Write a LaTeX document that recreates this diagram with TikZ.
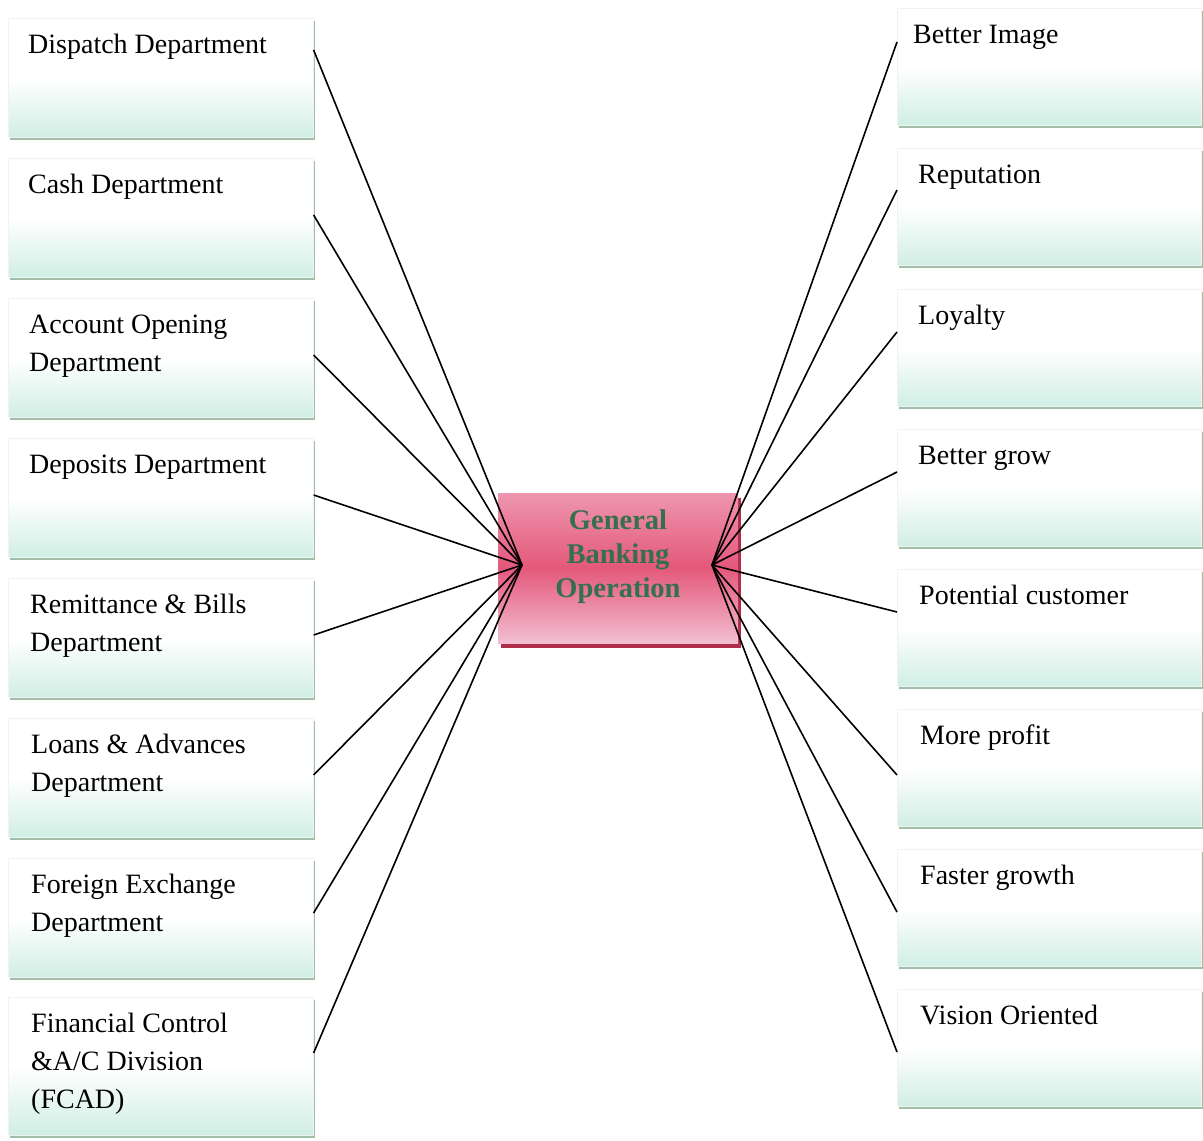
\documentclass[tikz,border=0pt]{standalone}
\usepackage{fontspec}
\setmainfont{Liberation Serif}
\usetikzlibrary{shadows,calc}
\definecolor{boxgreen}{RGB}{208,238,228}
\definecolor{boxshadow}{RGB}{150,185,160}
\definecolor{pinktop}{RGB}{238,150,175}
\definecolor{pinkmid}{RGB}{228,88,122}
\definecolor{pinkbot}{RGB}{242,190,210}
\definecolor{pinkshadow}{RGB}{175,45,72}
\definecolor{gbgreen}{RGB}{52,112,78}
\tikzset{
  sbox/.style={rectangle, draw=gray!10, line width=0.6pt, inner sep=0pt,
    top color=white, bottom color=boxgreen, middle color=white,
    drop shadow={shadow xshift=1.5pt, shadow yshift=-3pt, fill=boxshadow, opacity=0.9}},
  btext/.style={anchor=north west, inner sep=0pt, align=left,
    font=\fontsize{28}{38}\selectfont},
  hub/.style={rectangle, draw=none, minimum width=240pt, minimum height=150pt,
    top color=pinktop, bottom color=pinkbot, middle color=pinkmid,
    drop shadow={shadow xshift=2.5pt, shadow yshift=-5pt, fill=pinkshadow, opacity=1}},
  hubtext/.style={font=\bfseries\fontsize{28.5}{34}\selectfont, text=gbgreen, align=center, inner sep=0pt},
  link/.style={draw=black, line width=1.6pt}
}
\newcommand{\fs}{\rule{0pt}{21pt}}
\begin{document}
\begin{tikzpicture}[x=1pt,y=-1pt]
\useasboundingbox[fill=white] (0,0) rectangle (1203,1141);

% left boxes
\foreach \n/\t/\h in {1/18/119,2/158/119,3/298/119,4/438/119,5/578/119,6/718/119,7/858/119,8/997/138}{
  \node[sbox, minimum width=305pt, minimum height=\h pt, anchor=north west] (L\n) at (8,\t) {};
}
% right boxes
\foreach \n/\t in {1/8,2/148,3/289,4/429,5/569,6/709,7/849,8/989}{
  \node[sbox, minimum width=304pt, minimum height=117pt, anchor=north west] (R\n) at (897,\t) {};
}

% left texts (first baseline = box top + 35)
\node[btext] (tL1) at ($(L1.north west)+(20,14)$) {\fs Dispatch Department};
\node[btext] (tL2) at ($(L2.north west)+(20,14)$) {\fs Cash Department};
\node[btext] (tL3) at ($(L3.north west)+(21,14)$) {\fs Account Opening\\Department};
\node[btext] (tL4) at ($(L4.north west)+(21,14)$) {\fs Deposits Department};
\node[btext] (tL5) at ($(L5.north west)+(22,14)$) {\fs Remittance \& Bills\\Department};
\node[btext] (tL6) at ($(L6.north west)+(23,14)$) {\fs Loans \& Advances\\Department};
\node[btext] (tL7) at ($(L7.north west)+(23,14)$) {\fs Foreign Exchange\\Department};
\node[btext] (tL8) at ($(L8.north west)+(23,14)$) {\fs Financial Control\\\&A/C Division\\(FCAD)};

% right texts
\node[btext] (tR1) at ($(R1.north west)+(16,14)$) {\fs Better Image};
\node[btext] (tR2) at ($(R2.north west)+(21,14)$) {\fs Reputation};
\node[btext] (tR3) at ($(R3.north west)+(21,14)$) {\fs Loyalty};
\node[btext] (tR4) at ($(R4.north west)+(21,14)$) {\fs Better grow};
\node[btext] (tR5) at ($(R5.north west)+(22,14)$) {\fs Potential customer};
\node[btext] (tR6) at ($(R6.north west)+(23,14)$) {\fs More profit};
\node[btext] (tR7) at ($(R7.north west)+(23,14)$) {\fs Faster growth};
\node[btext] (tR8) at ($(R8.north west)+(23,14)$) {\fs Vision Oriented};

% hub
\node[hub] (G) at (618,568) {};
\node[hubtext] (Gt) at (618,557) {General\\Banking\\Operation};
\coordinate (GL) at (522,565);
\coordinate (GR) at (712,565);

% left connectors
\foreach \n/\d in {1/32,2/57,3/57,4/57,5/57,6/57,7/55,8/56}{
  \draw[link] ($(L\n.north east)+(0,\d)$) -- (GL);
}
% right connectors
\foreach \n/\d in {1/34,2/42,3/43,4/43,5/43,6/66,7/63,8/63}{
  \draw[link] ($(R\n.north west)+(0,\d)$) -- (GR);
}
\end{tikzpicture}
\end{document}
